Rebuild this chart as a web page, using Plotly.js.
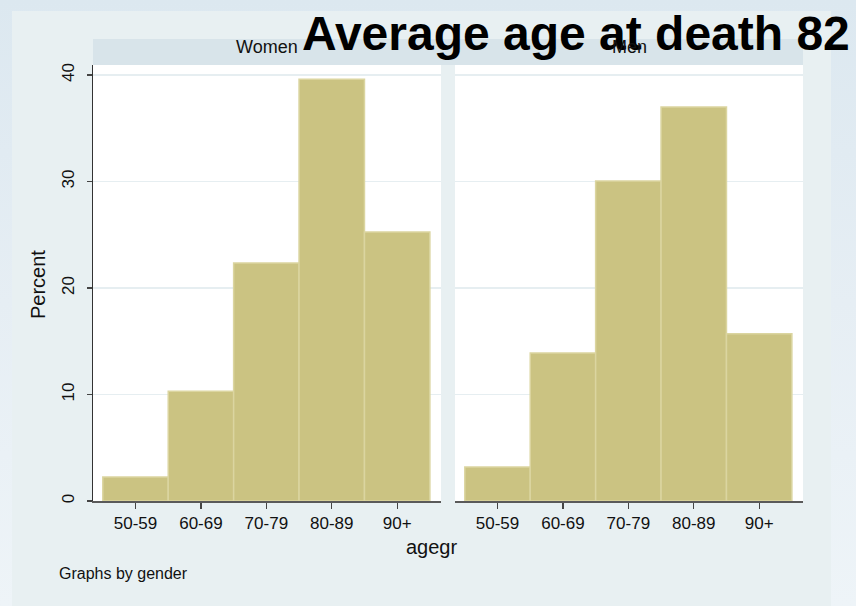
<!DOCTYPE html>
<html>
<head>
<meta charset="utf-8">
<script src="https://cdn.plot.ly/plotly-3.0.1.min.js"></script>
<style>
  html, body { margin: 0; padding: 0; }
  body { width: 856px; height: 606px; background: linear-gradient(to bottom, #dce8f0 0%, #e6eef4 50%, #eef4f8 100%); }
  #chart { width: 856px; height: 606px; }
</style>
</head>
<body>
<div id="chart"></div>
<script>
const categories = ["50-59", "60-69", "70-79", "80-89", "90+"];
const womenPercent = [2.25, 10.3, 22.35, 39.6, 25.25];
const menPercent = [3.2, 13.9, 30.05, 37.0, 15.7];
const panelLabels = ["Women", "Men"];
const yTicks = [0, 10, 20, 30, 40];
const titleText = "Average age at death 82";

const W = 856, H = 606;
const px = v => v / W;
const py = v => 1 - v / H;

const FONT = '"Liberation Sans", Arial, Helvetica, sans-serif';
const barColor = '#cbc382';
const barLine = '#dbd5a0';

const traces = [
  { type: 'bar', x: categories, y: womenPercent, xaxis: 'x', yaxis: 'y', width: 1,
    marker: { color: barColor, line: { color: barLine, width: 1.5 } }, hoverinfo: 'x+y' },
  { type: 'bar', x: categories, y: menPercent, xaxis: 'x2', yaxis: 'y2', width: 1,
    marker: { color: barColor, line: { color: barLine, width: 1.5 } }, hoverinfo: 'x+y' }
];

const xCommon = {
  type: 'category', categoryorder: 'array', categoryarray: categories,
  range: [-0.65, 4.67], showgrid: false, zeroline: false,
  showline: true, linecolor: '#5a5a5a', linewidth: 2,
  ticks: 'outside', ticklen: 6, tickwidth: 1.2, tickcolor: '#444',
  tickfont: { family: FONT, size: 17, color: '#111' }, fixedrange: true
};

const yDomain = [1 - 501 / H, 1 - 65 / H];

const layout = {
  width: W, height: H,
  margin: { l: 0, r: 0, t: 0, b: 0 },
  paper_bgcolor: 'rgba(0,0,0,0)',
  plot_bgcolor: 'rgba(0,0,0,0)',
  showlegend: false,
  bargap: 0,
  font: { family: FONT, color: '#111' },
  title: {
    text: '<b>' + titleText + '</b>',
    font: { family: FONT, size: 48, color: '#000' },
    xref: 'container', yref: 'container',
    x: px(302), xanchor: 'left',
    y: 1 - 33 / H, yanchor: 'middle'
  },
  xaxis: Object.assign({}, xCommon, { domain: [px(93), px(441)], anchor: 'y' }),
  xaxis2: Object.assign({}, xCommon, { domain: [px(455), px(803)], anchor: 'y2' }),
  yaxis: {
    domain: yDomain, range: [0, 40.94], anchor: 'x',
    tickvals: yTicks, ticktext: yTicks.map(String), tickangle: -90,
    showgrid: true, gridcolor: '#e6eef1', gridwidth: 1.5, zeroline: false,
    showline: true, linecolor: '#333', linewidth: 1.5,
    ticks: 'outside', ticklen: 5, tickwidth: 1.2, tickcolor: '#444',
    ticklabelstandoff: 6,
    tickfont: { family: FONT, size: 17, color: '#111' }, fixedrange: true
  },
  yaxis2: {
    domain: yDomain, matches: 'y', anchor: 'x2',
    tickvals: yTicks, showticklabels: false, ticks: '',
    showgrid: true, gridcolor: '#e6eef1', gridwidth: 1.5, zeroline: false,
    showline: false, fixedrange: true
  },
  shapes: [
    { type: 'rect', xref: 'paper', yref: 'paper', x0: px(12), x1: px(831), y0: 0, y1: py(11),
      fillcolor: '#e8f0f2', line: { width: 0 }, layer: 'below' },
    { type: 'rect', xref: 'paper', yref: 'paper', x0: px(93), x1: px(803), y0: py(65), y1: py(39),
      fillcolor: '#d8e4ea', line: { width: 0 }, layer: 'below' },
    { type: 'rect', xref: 'paper', yref: 'paper', x0: px(93), x1: px(441), y0: py(501), y1: py(65),
      fillcolor: '#ffffff', line: { width: 0 }, layer: 'below' },
    { type: 'rect', xref: 'paper', yref: 'paper', x0: px(455), x1: px(803), y0: py(501), y1: py(65),
      fillcolor: '#ffffff', line: { width: 0 }, layer: 'below' }
  ],
  annotations: [
    { text: panelLabels[0], xref: 'paper', yref: 'paper', x: px(267), y: py(47), xanchor: 'center', yanchor: 'middle',
      showarrow: false, font: { family: FONT, size: 18, color: '#111' } },
    { text: panelLabels[1], xref: 'paper', yref: 'paper', x: px(629), y: py(47), xanchor: 'center', yanchor: 'middle',
      showarrow: false, font: { family: FONT, size: 18, color: '#111' } },
    { text: 'agegr', xref: 'paper', yref: 'paper', x: px(431), y: py(547), xanchor: 'center', yanchor: 'middle',
      showarrow: false, font: { family: FONT, size: 20, color: '#111' } },
    { text: 'Percent', xref: 'paper', yref: 'paper', x: px(38), y: py(285), xanchor: 'center', yanchor: 'middle',
      textangle: -90, showarrow: false, font: { family: FONT, size: 20, color: '#111' } },
    { text: 'Graphs by gender', xref: 'paper', yref: 'paper', x: px(57), y: py(573), xanchor: 'left', yanchor: 'middle',
      showarrow: false, font: { family: FONT, size: 16, color: '#111' } }
  ]
};

Plotly.newPlot('chart', traces, layout, { staticPlot: true, displayModeBar: false });
</script>
</body>
</html>
